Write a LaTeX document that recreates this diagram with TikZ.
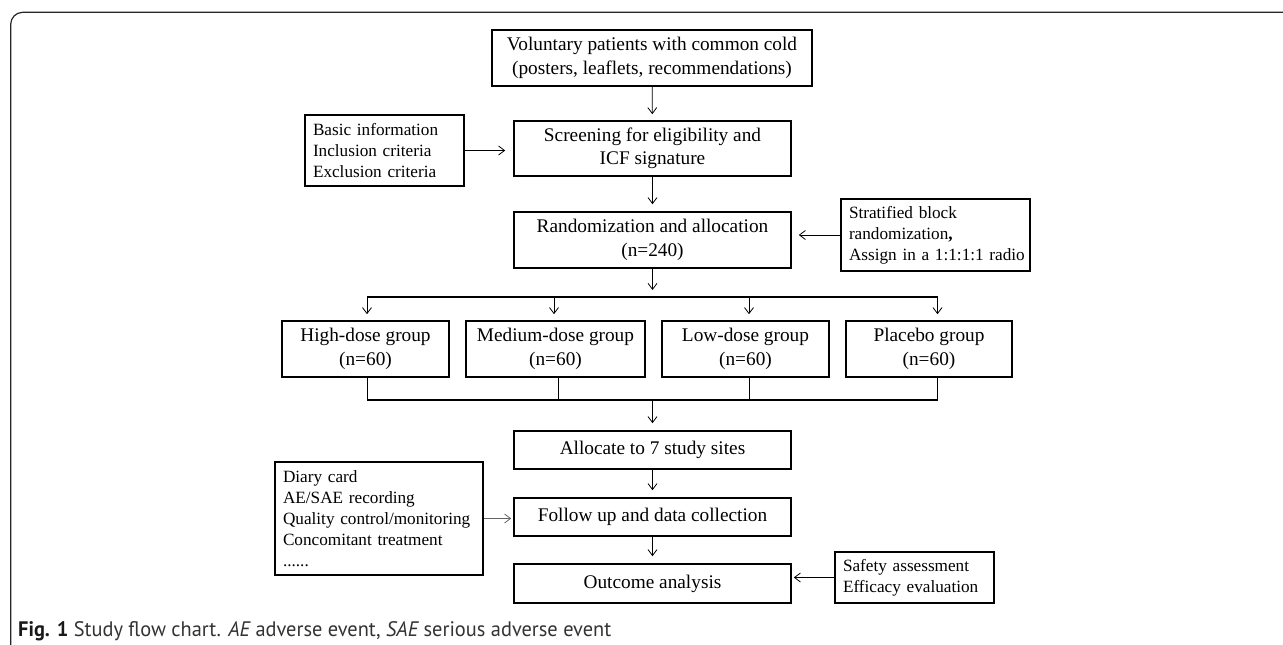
\documentclass[tikz,border=0pt]{standalone}
\usepackage{fontspec}
\setmainfont{Liberation Serif}
\newfontfamily\capfont{PT Sans}
\usetikzlibrary{arrows.meta}
\newlength\mycapwidth
\newcommand\mycaptext{{\bfseries\color{black!90}Fig. 1} Study flow chart. {\itshape AE} adverse event, {\itshape SAE} serious adverse event}
\tikzset{
  box/.style={draw=black, line width=1.6pt, inner sep=0pt, align=center,
    font=\fontsize{19.3}{23.5}\selectfont},
  sbox/.style={draw=black, line width=1.6pt, inner xsep=8pt, inner ysep=0pt, align=left,
    font=\fontsize{17.2}{21}\selectfont},
  arr/.style={-{Straight Barb[length=6pt,width=9pt]}, line width=0.8pt, shorten >=7pt},
  sarr/.style={-{Straight Barb[length=6pt,width=9pt]}, line width=0.8pt, shorten >=2pt},
  bar/.style={line width=1.4pt},
  thinline/.style={line width=0.8pt},
}
\begin{document}
\begin{tikzpicture}[x=1pt,y=-1pt]
\useasboundingbox (0,0) rectangle (1283,645);
% frame
\draw[black!85, line width=1.2pt, rounded corners=12pt] (10.7,645) -- (10.7,12.3) -- (1283,12.3);

% main column
\node[box, minimum width=320pt, minimum height=56pt] (top) at (652,58)
  {Voluntary patients with common cold\\(posters, leaflets, recommendations)};
\node[box, minimum width=277pt, minimum height=55pt] (screen) at (652.5,148.5)
  {Screening for eligibility and\\ICF signature};
\node[box, minimum width=277pt, minimum height=56pt] (rand) at (652.5,240)
  {Randomization and allocation\\(n=240)};

% side boxes
\node[sbox, text width=143pt, minimum height=71pt] (basic) at (384.5,150.5)
  {Basic information\\Inclusion criteria\\Exclusion criteria};
\node[sbox, text width=173pt, minimum height=72pt] (strat) at (935.5,235)
  {\mbox{Stratified block}\\\mbox{randomization{\bfseries ,}}\\\mbox{Assign in a 1:1:1:1 radio}};

% groups
\node[box, minimum width=167pt, minimum height=56pt] (high) at (365.5,349) {High-dose group\\(n=60)};
\node[box, minimum width=179pt, minimum height=56pt] (med) at (555.5,349) {Medium-dose group\\(n=60)};
\node[box, minimum width=167pt, minimum height=56pt] (low) at (745.5,349) {Low-dose group\\(n=60)};
\node[box, minimum width=166pt, minimum height=56pt] (plac) at (929,349) {Placebo group\\(n=60)};

% lower column
\node[box, minimum width=277pt, minimum height=38pt] (alloc) at (652.5,450) {Allocate to 7 study sites};
\node[box, minimum width=277pt, minimum height=38pt] (follow) at (652.5,517) {Follow up and data collection};
\node[box, minimum width=277pt, minimum height=39pt] (outcome) at (652.5,583.5) {Outcome analysis};

\node[sbox, text width=192pt, minimum height=113pt] (diary) at (379,518.5)
  {Diary card\\AE/SAE recording\\\mbox{Quality control/monitoring}\\Concomitant treatment\\......};
\node[sbox, text width=143pt, minimum height=51pt] (safety) at (914.5,577.5)
  {Safety assessment\\Efficacy evaluation};

% coordinates of branch and join lines
\coordinate (b1) at (367,297);
\coordinate (b2) at (554,297);
\coordinate (bm) at (652.5,297);
\coordinate (b3) at (749,297);
\coordinate (b4) at (937.5,297);
\coordinate (j1) at (367,400);
\coordinate (j2) at (558,400);
\coordinate (jm) at (652.5,400);
\coordinate (j3) at (749,400);
\coordinate (j4) at (937.5,400);

% connectors
\draw[arr, shorten >=6pt] (top) -- (screen);
\draw[arr] (screen) -- (rand);
\draw[arr, shorten >=8pt] (basic.east) -- (basic.east -| screen.west);
\draw[arr] (strat.west) -- (strat.west -| rand.east);
\draw[arr] (rand.south) -- (bm);
\draw[bar] (b1) -- (b4);
\draw[arr, shorten >=6pt] (b1) -- (b1 |- high.north);
\draw[arr, shorten >=6pt] (b2) -- (b2 |- med.north);
\draw[arr, shorten >=6pt] (b3) -- (b3 |- low.north);
\draw[arr, shorten >=6pt] (b4) -- (b4 |- plac.north);
\draw[thinline] (j1 |- high.south) -- (j1);
\draw[thinline] (j2 |- med.south) -- (j2);
\draw[thinline] (j3 |- low.south) -- (j3);
\draw[thinline] (j4 |- plac.south) -- (j4);
\draw[bar] (j1) -- (j4);
\draw[arr] (jm) -- (alloc.north);
\draw[arr] (alloc) -- (follow);
\draw[arr] (follow) -- (outcome);
\draw[sarr, draw=black!60] (diary.east) -- (diary.east -| follow.west);
\draw[sarr] (safety.west) -- (safety.west -| outcome.east);

% caption
\node[anchor=base west, inner sep=0pt, font=\capfont\fontsize{21}{24}\selectfont, text=black!80] (cap) at (18,636)
  {\settowidth{\mycapwidth}{\mycaptext}\scalebox{\fpeval{593pt/\the\mycapwidth}}[1]{\mycaptext}};
\end{tikzpicture}
\end{document}
